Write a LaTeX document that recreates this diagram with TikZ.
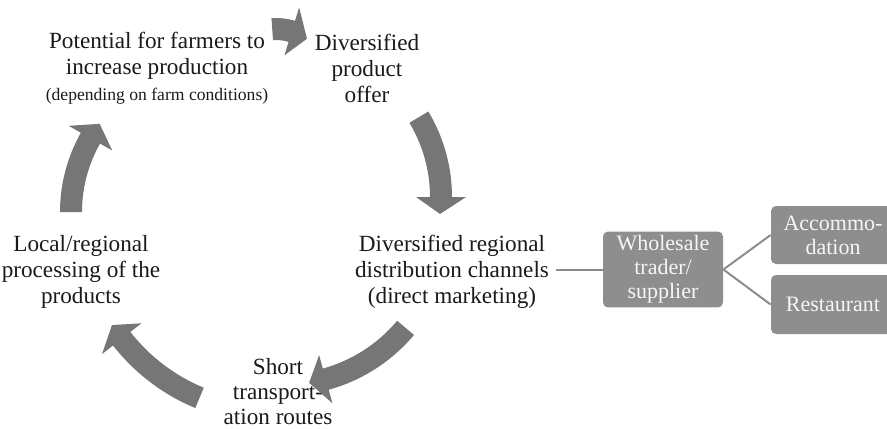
\documentclass[tikz,border=0pt]{standalone}
\usepackage{fontspec}
\setmainfont{Liberation Serif}
\usepackage{xcolor}
\usepackage{tikz}
\usetikzlibrary{positioning,calc}
\definecolor{fcArrow}{HTML}{767676}
\definecolor{fcBox}{HTML}{8E8E8E}
\definecolor{fcLine}{HTML}{8C8C8C}
\definecolor{fcText}{HTML}{1A1A1A}
\definecolor{fcWhite}{HTML}{F6F6F6}
\tikzset{
  fc-text/.style={
    font=\fontsize{11.6}{13}\selectfont, text=fcText, align=center,
    inner sep=1pt
  },
  fc-box/.style={
    fill=fcBox, rounded corners=2.5pt, font=\fontsize{11}{12}\selectfont,
    text=fcWhite, align=center, inner sep=2pt
  },
  fc-link/.style={draw=fcLine, line width=1pt},
  fc-arrow/.style={fill=fcArrow}
}
% block arrow along an arc: centre, radius, start, head base, tip (angles)
\newcommand{\fcArrow}[5]{%
  \fill[fc-arrow] ($(#1)+({#3}:{#2+11})$)
    arc[start angle=#3, end angle=#4, radius=#2+11]
    -- ($(#1)+({#4}:{#2+25})$) -- ($(#1)+({#5}:{#2})$)
    -- ($(#1)+({#4}:{#2-25})$) -- ($(#1)+({#4}:{#2-11})$)
    arc[start angle=#4, end angle=#3, radius=#2-11] -- cycle;}

\begin{document}
\begin{tikzpicture}[x=0.5pt, y=-0.5pt]
\useasboundingbox (0,0) rectangle (887,428);
\clip (0,0) rectangle (887,428);

% cycle
\node[fc-text] (pot) at (157,68) {Potential for farmers to\\increase production\\
  {\fontsize{8.8}{11}\selectfont (depending on farm conditions)}};
\node[fc-text] (offer) at (367,68) {Diversified\\product\\offer};
\node[fc-text] (channels) at (452,272)
  {Diversified regional\\distribution channels\\(direct marketing)};
\node[fc-text, font=\fontsize{11.6}{12.5}\selectfont, inner sep=0pt]
  (transport) at (278,392) {Short\\transport-\\ation routes};
\node[fc-text] (processing) at (81,272)
  {Local/regional\\processing of the\\products};

\coordinate (ctrA) at (276,83);
\coordinate (ctrB) at (286,197);
\coordinate (ctrC) at (283,225);
\coordinate (ctrD) at (273,220.5);
\coordinate (ctrE) at (221,212);

\fcArrow{ctrA}{54}{-94}{-73}{-55}
\fcArrow{ctrB}{155}{-31}{0}{6.3}
\fcArrow{ctrC}{160}{40}{74.5}{80.6}
\fcArrow{ctrD}{192}{112.5}{142}{147}
\fcArrow{ctrE}{150}{180}{209.5}{216}

% outlets
\node[fc-box, minimum width=60pt, minimum height=36.5pt] (trader)
  at (663,269.5) {Wholesale\\trader/\\supplier};
\node[fc-box, minimum width=62pt, minimum height=29pt] (accom)
  at (833,235) {Accommo-\\dation};
\node[fc-box, minimum width=62pt, minimum height=29.5pt] (restaurant)
  at (833,304.5) {Restaurant};

\draw[fc-link] ([xshift=2.5pt]channels.east |- trader.west) -- (trader.west);
\draw[fc-link] (trader.east) -- (accom.west);
\draw[fc-link] (trader.east) -- (restaurant.west);
\end{tikzpicture}
\end{document}
